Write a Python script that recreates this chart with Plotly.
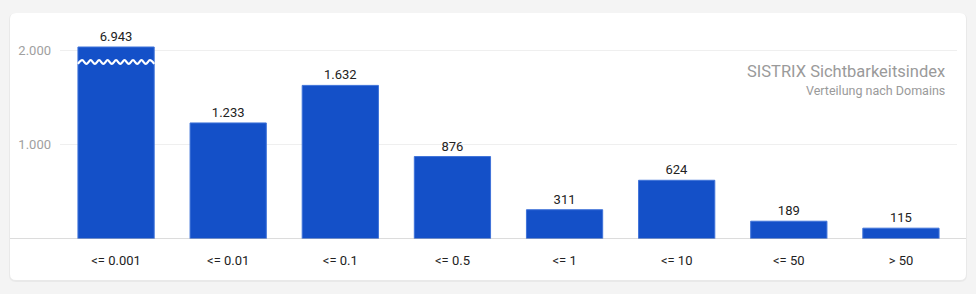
import plotly.graph_objects as go

# Visibility index distribution by domain bucket
categories = ["<= 0.001", "<= 0.01", "<= 0.1", "<= 0.5", "<= 1", "<= 10", "<= 50", "> 50"]
domains = [6943, 1233, 1632, 876, 311, 624, 189, 115]
y_ticks = [1000, 2000]

# Axis cap: taller bars are cut off and marked with a wavy break
axis_cap = 2040
break_level = 1880

W, H = 976, 294
L, R, T, B = 60, 19, 30, 55
plot_w = W - L - R
plot_h = H - T - B


def px_x(p):
    return (p - L) / plot_w


def px_y(p):
    return (H - B - p) / plot_h


bar_color = "#1450c8"
bar_width = 0.68

x_idx = list(range(len(categories)))
shown = [min(v, axis_cap) for v in domains]

fig = go.Figure()
fig.add_trace(go.Bar(
    x=x_idx,
    y=shown,
    width=bar_width,
    customdata=domains,
    texttemplate="%{customdata:,}",
    textposition="outside",
    textfont=dict(size=13, color="#222222", family="Roboto"),
    cliponaxis=False,
    marker=dict(color=bar_color, line=dict(color="#3f73d9", width=1)),
    hoverinfo="skip",
))

# Wavy break across each capped bar
for i, v in enumerate(domains):
    if v > axis_cap:
        n_waves = 9
        steps = n_waves * 2
        xs, ys = [], []
        x0 = i - bar_width / 2
        for k in range(steps + 1):
            xs.append(x0 + bar_width * k / steps)
            ys.append(break_level + (20 if k % 2 else -20))
        fig.add_trace(go.Scatter(
            x=xs, y=ys, mode="lines",
            line=dict(color="white", width=2.2, shape="spline"),
            hoverinfo="skip", showlegend=False,
        ))

# Card background with rounded corners and a soft shadow
def rounded_rect(x0, y0, x1, y1, r):
    # pixel coordinates -> paper path
    pts = [
        f"M {px_x(x0 + r)} {px_y(y0)}",
        f"L {px_x(x1 - r)} {px_y(y0)}",
        f"Q {px_x(x1)} {px_y(y0)} {px_x(x1)} {px_y(y0 + r)}",
        f"L {px_x(x1)} {px_y(y1 - r)}",
        f"Q {px_x(x1)} {px_y(y1)} {px_x(x1 - r)} {px_y(y1)}",
        f"L {px_x(x0 + r)} {px_y(y1)}",
        f"Q {px_x(x0)} {px_y(y1)} {px_x(x0)} {px_y(y1 - r)}",
        f"L {px_x(x0)} {px_y(y0 + r)}",
        f"Q {px_x(x0)} {px_y(y0)} {px_x(x0 + r)} {px_y(y0)}",
        "Z",
    ]
    return " ".join(pts)


shapes = [
    dict(type="path", xref="paper", yref="paper", layer="below",
         path=rounded_rect(9, 13, 967, 282, 7),
         fillcolor="#e9e9e9", line=dict(width=0)),
    dict(type="path", xref="paper", yref="paper", layer="below",
         path=rounded_rect(10, 13, 966, 280, 6),
         fillcolor="white", line=dict(width=0)),
    # baseline spanning the card
    dict(type="line", xref="paper", yref="y", layer="above",
         x0=px_x(10), x1=px_x(966), y0=0, y1=0,
         line=dict(color="#b8b8b8", width=1)),
]

annotations = [
    dict(text="SISTRIX Sichtbarkeitsindex", xref="paper", yref="paper",
         x=px_x(947), y=px_y(71), xanchor="right", yanchor="middle",
         showarrow=False, font=dict(size=16.5, color="#9a9a9a", family="Roboto")),
    dict(text="Verteilung nach Domains", xref="paper", yref="paper",
         x=px_x(947), y=px_y(90), xanchor="right", yanchor="middle",
         showarrow=False, font=dict(size=12.5, color="#9a9a9a", family="Roboto")),
]

y_max = axis_cap * plot_h / (H - B - 47)

fig.update_layout(
    width=W, height=H,
    margin=dict(l=L, r=R, t=T, b=B, pad=0),
    paper_bgcolor="#f4f4f4",
    plot_bgcolor="rgba(0,0,0,0)",
    separators=",.",
    showlegend=False,
    shapes=shapes,
    annotations=annotations,
    font=dict(family="Roboto"),
    xaxis=dict(
        type="linear",
        range=[-0.5, len(categories) - 0.5],
        tickvals=x_idx, ticktext=categories,
        showgrid=False, zeroline=False, showline=False,
        ticks="", ticklabelstandoff=12,
        tickfont=dict(size=13, color="#222222", family="Roboto"),
        fixedrange=True,
    ),
    yaxis=dict(
        range=[0, y_max],
        tickvals=y_ticks, tickformat=",d",
        showgrid=True, gridcolor="#efefef", gridwidth=1,
        zeroline=False, showline=False,
        ticks="", ticklabelstandoff=8,
        tickfont=dict(size=13, color="#a0a0a0", family="Roboto"),
        fixedrange=True,
    ),
)

fig.write_html("out.html")
